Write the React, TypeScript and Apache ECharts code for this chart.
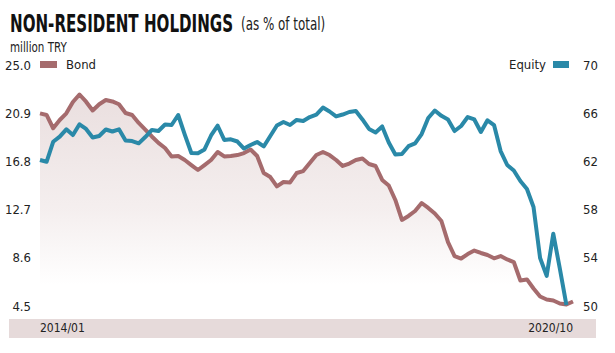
import React, { useEffect, useRef } from 'react';
import * as echarts from 'echarts';

const categories: string[] = [];
for (let y = 2014; y <= 2020; y++) {
  for (let m = 1; m <= 12; m++) {
    if (y === 2020 && m > 10) break;
    categories.push(`${y}/${String(m).padStart(2, '0')}`);
  }
}

const bondValues = [
  20.89, 20.75, 19.62, 20.32, 20.89, 21.85, 22.49, 21.88, 21.13, 21.66,
  22.02, 21.9, 21.66, 20.92, 20.75, 20.07, 19.51, 18.92, 18.37, 17.94,
  17.22, 17.26, 16.92, 16.49, 16.07, 16.49, 16.92, 17.6, 17.22, 17.26,
  17.34, 17.51, 17.81, 17.26, 15.81, 15.47, 14.67, 15.05, 15.01, 15.81,
  15.98, 16.66, 17.34, 17.6, 17.34, 16.92, 16.41, 16.62, 16.92, 17.05,
  16.58, 16.41, 15.22, 14.75, 13.52, 11.82, 12.16, 12.58, 13.26, 12.84,
  12.37, 11.73, 9.94, 8.75, 8.54, 8.92, 9.22, 9.01, 8.84, 8.56,
  8.75, 8.46, 8.24, 6.67, 6.76, 5.99, 5.31, 5.05, 4.97, 4.71,
  4.63, 4.88,
];

const equityValues = [
  62.12, 61.97, 63.63, 64.05, 64.66, 64.19, 65.08, 64.69, 63.98, 64.11,
  64.65, 64.48, 64.66, 63.73, 63.69, 63.5, 64.02, 64.61, 64.52, 65.06,
  65.02, 65.85, 64.23, 62.7, 62.67, 62.99, 64.15, 64.96, 63.78, 63.83,
  63.65, 63.07, 63.36, 63.61, 63.24, 64.11, 64.98, 65.27, 65.02, 65.44,
  65.35, 65.68, 65.89, 66.47, 66.14, 65.73, 65.89, 66.1, 66.18, 65.48,
  64.69, 64.4, 64.9, 63.57, 62.57, 62.61, 63.26, 63.49, 64.27, 65.6,
  66.22, 65.78, 65.48, 64.52, 64.94, 65.68, 65.48, 64.44, 65.41, 65.02,
  62.86, 61.7, 61.24, 60.37, 59.71, 58.22, 53.98, 52.5, 56.0, 53.1,
  50.08,
];

const leftTicks = [4.5, 8.6, 12.7, 16.8, 20.9, 25.0];
const rightTicks = [50, 54, 58, 62, 66, 70];
const xLabelsShown = ['2014/01', '2020/10'];

const FONT =
  "'Liberation Sans Narrow', 'DejaVu Sans Condensed', 'Roboto Condensed', 'Arial Narrow', 'Noto Sans', sans-serif";
const BOND = '#a56b6d';
const EQUITY = '#2a89a8';
const TEXT = '#222';

export default function App() {
  const ref = useRef<HTMLDivElement>(null);
  useEffect(() => {
    if (!ref.current) return;
    const chart = echarts.init(ref.current, null, { renderer: 'svg' });
    const legendText = { fontFamily: FONT, fontSize: 13, color: TEXT };
    chart.setOption({
      animation: false,
      backgroundColor: '#ffffff',
      grid: { left: 40, right: 42, top: 65, bottom: 47, containLabel: false },
      legend: [
        {
          data: ['Bond'],
          left: 40,
          top: 58,
          padding: 0,
          icon: 'rect',
          itemWidth: 17,
          itemHeight: 7,
          textStyle: { ...legendText, padding: [0, 0, 0, 4] },
        },
        {
          data: ['Equity'],
          right: 46,
          top: 58,
          padding: 0,
          align: 'right',
          icon: 'rect',
          itemWidth: 16,
          itemHeight: 7,
          textStyle: { ...legendText, padding: [0, 2, 0, 0] },
        },
      ],
      graphic: [
        {
          type: 'rect',
          left: 9,
          top: 319,
          z: -10,
          shape: { width: 587, height: 19 },
          style: { fill: '#e6dada' },
        },
        {
          type: 'text',
          x: 10,
          y: 24,
          scaleX: 0.7,
          style: {
            text: 'NON-RESIDENT HOLDINGS',
            fontFamily: FONT,
            fontWeight: 'bold',
            fontSize: 24,
            fill: '#111',
            align: 'left',
            verticalAlign: 'middle',
          },
        },
        {
          type: 'text',
          x: 241,
          y: 24.5,
          scaleX: 0.78,
          style: {
            text: '(as % of total)',
            fontFamily: FONT,
            fontWeight: 'normal',
            fontSize: 17,
            fill: TEXT,
            align: 'left',
            verticalAlign: 'middle',
          },
        },
        {
          type: 'text',
          x: 10,
          y: 47,
          scaleX: 0.82,
          style: {
            text: 'million TRY',
            fontFamily: FONT,
            fontSize: 14,
            fill: TEXT,
            align: 'left',
            verticalAlign: 'middle',
          },
        },
      ],
      xAxis: {
        type: 'category',
        data: categories,
        boundaryGap: false,
        axisLine: { show: false },
        axisTick: { show: false },
        splitLine: { show: false },
        axisLabel: {
          interval: 0,
          formatter: (v: string) => (xLabelsShown.includes(v) ? v : ''),
          alignMinLabel: 'left',
          alignMaxLabel: 'right',
          margin: 16,
          fontFamily: FONT,
          fontSize: 12,
          color: TEXT,
        },
      },
      yAxis: [
        {
          type: 'value',
          min: 4.5,
          max: 25,
          position: 'left',
          axisLine: { show: false },
          axisTick: { show: false },
          splitLine: { show: false },
          axisLabel: {
            customValues: leftTicks,
            formatter: (v: number) => v.toFixed(1),
            margin: 9,
            fontFamily: FONT,
            fontSize: 13,
            color: TEXT,
          },
        },
        {
          type: 'value',
          min: 50,
          max: 70,
          position: 'right',
          axisLine: { show: false },
          axisTick: { show: false },
          splitLine: { show: false },
          axisLabel: {
            customValues: rightTicks,
            formatter: (v: number) => String(v),
            margin: 10,
            fontFamily: FONT,
            fontSize: 13,
            color: TEXT,
          },
        },
      ],
      series: [
        {
          name: 'Bond',
          type: 'line',
          yAxisIndex: 0,
          data: bondValues,
          symbol: 'none',
          lineStyle: { color: BOND, width: 4, join: 'round' },
          itemStyle: { color: BOND },
          areaStyle: {
            origin: 'start',
            color: new echarts.graphic.LinearGradient(0, 0, 0, 1, [
              { offset: 0, color: 'rgba(180,140,140,0.4)' },
              { offset: 0.55, color: 'rgba(180,140,140,0.2)' },
              { offset: 0.9, color: 'rgba(180,140,140,0)' },
            ]),
          },
        },
        {
          name: 'Equity',
          type: 'line',
          yAxisIndex: 1,
          data: equityValues,
          symbol: 'none',
          lineStyle: { color: EQUITY, width: 4, join: 'round' },
          itemStyle: { color: EQUITY },
        },
      ],
    });
    return () => chart.dispose();
  }, []);
  return (
    <div
      ref={ref}
      style={{ position: 'fixed', left: 0, top: 0, width: 615, height: 353, background: '#fff' }}
    />
  );
}
